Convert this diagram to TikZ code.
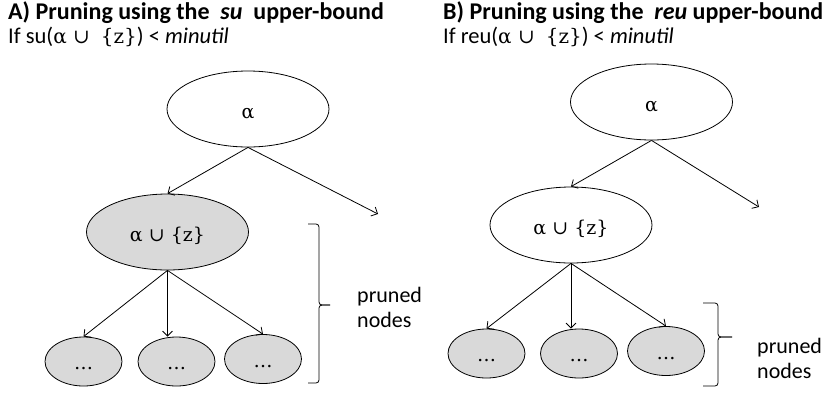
\documentclass[tikz,border=0pt]{standalone}
\usepackage{fontspec}
\setmainfont{Carlito}
\newfontfamily\symbfont{DejaVu Serif}
\usepackage{tikz}
\usetikzlibrary{arrows.meta, shapes.geometric}
\usetikzlibrary{positioning}
\definecolor{prunegrey}{RGB}{217,217,217}
\tikzstyle{white_node} = [
    ellipse,
    draw=black,
    fill=white,
    line width=0.8pt,
    inner sep=0pt,
    minimum width=162pt,
    minimum height=76pt,
    text height=18pt, % puts the baseline a little below the middle
    text depth=0pt,
    font=\fontsize{19}{22}\symbfont
]
\tikzstyle{grey_node} = [
    white_node,
    fill=prunegrey
]
\tikzstyle{leaf_node} = [
    ellipse,
    draw=black,
    fill=prunegrey,
    line width=0.8pt,
    inner sep=0pt,
    minimum width=77pt, % three leaves side by side
    minimum height=49pt,
    text height=16pt,
    text depth=0pt,
    font=\fontsize{19}{22}\symbfont
]
\tikzstyle{edge} = [
    line width=0.8pt,
    -{Straight Barb[length=5pt,width=10pt]}
]
\tikzstyle{brace} = [
    line width=0.8pt,
    rounded corners=3pt
]
\newcommand{\az}{{\fontsize{20}{22}\symbfont α ∪\hspace{0.55em}\{z\}}}

\begin{document}
\begin{tikzpicture}[
    x=1pt, y=-1pt,
    title/.style={anchor=base west, inner sep=0pt, font=\fontsize{24}{28}\selectfont\bfseries},
    cond/.style={anchor=base west, inner sep=0pt, font=\fontsize{22.5}{26}\selectfont},
    note/.style={anchor=base west, inner sep=0pt, align=left, font=\fontsize{22}{24.5}\selectfont}
]
\useasboundingbox (0,0) rectangle (831,392);

% A) su upper-bound
\node [title] (a_title) at (8,19) {A) Pruning using the \ \textit{su}\ \ upper-bound};
\node [cond] (a_cond) at (8,43) {If su(\az) < \textit{minutil}};

\node [white_node] (a_root) at (248,109) {α};
\node [grey_node] (a_child) at (167.5,232) {α ∪ \{z\}};
\coordinate (a_right) at (378,214);
\node [leaf_node] (a_leaf1) at (83.5,361.5) {…};
\node [leaf_node] (a_leaf2) at (176.5,361.5) {…};
\node [leaf_node] (a_leaf3) at (263,359) {…};

\draw [edge] (a_root.south) -- (a_child.north);
\draw [edge] (a_root.south) -- (a_right);
\draw [edge] (a_child.south) -- (a_leaf1.north);
\draw [edge] (a_child.south) -- (a_child.south |- a_leaf2.north);
\draw [edge] (a_child.south) -- (a_leaf3.north);

\draw [brace] (308,224) -| (319,305) -- (330,305);
\draw [brace] (330,305) -- (319,305) |- (308,383);
\node [note] (a_note) at (357,327) {pruned\\nodes};

% B) reu upper-bound
\node [title] (b_title) at (443,19) {B) Pruning using the \ \textit{reu} upper-bound};
\node [cond] (b_cond) at (443,43) {If reu(\az) < \textit{minutil}};

\node [white_node] (b_root) at (651.5,102) {α};
\node [white_node] (b_child) at (571,225) {α ∪ \{z\}};
\coordinate (b_right) at (759,207);
\node [leaf_node] (b_leaf1) at (486.5,353.5) {…};
\node [leaf_node] (b_leaf2) at (579,353.5) {…};
\node [leaf_node] (b_leaf3) at (666,351) {…};

\draw [edge] (b_root.south) -- (b_child.north);
\draw [edge] (b_root.south) -- (b_right);
\draw [edge] (b_child.south) -- (b_leaf1.north);
\draw [edge] (b_child.south) -- (b_child.south |- b_leaf2.north);
\draw [edge] (b_child.south) -- (b_leaf3.north);

\draw [brace] (703,303) -| (718,337) -- (732,337);
\draw [brace] (732,337) -- (718,337) |- (703,386);
\node [note] (b_note) at (757,378) {pruned\\nodes};
\end{tikzpicture}
\end{document}
